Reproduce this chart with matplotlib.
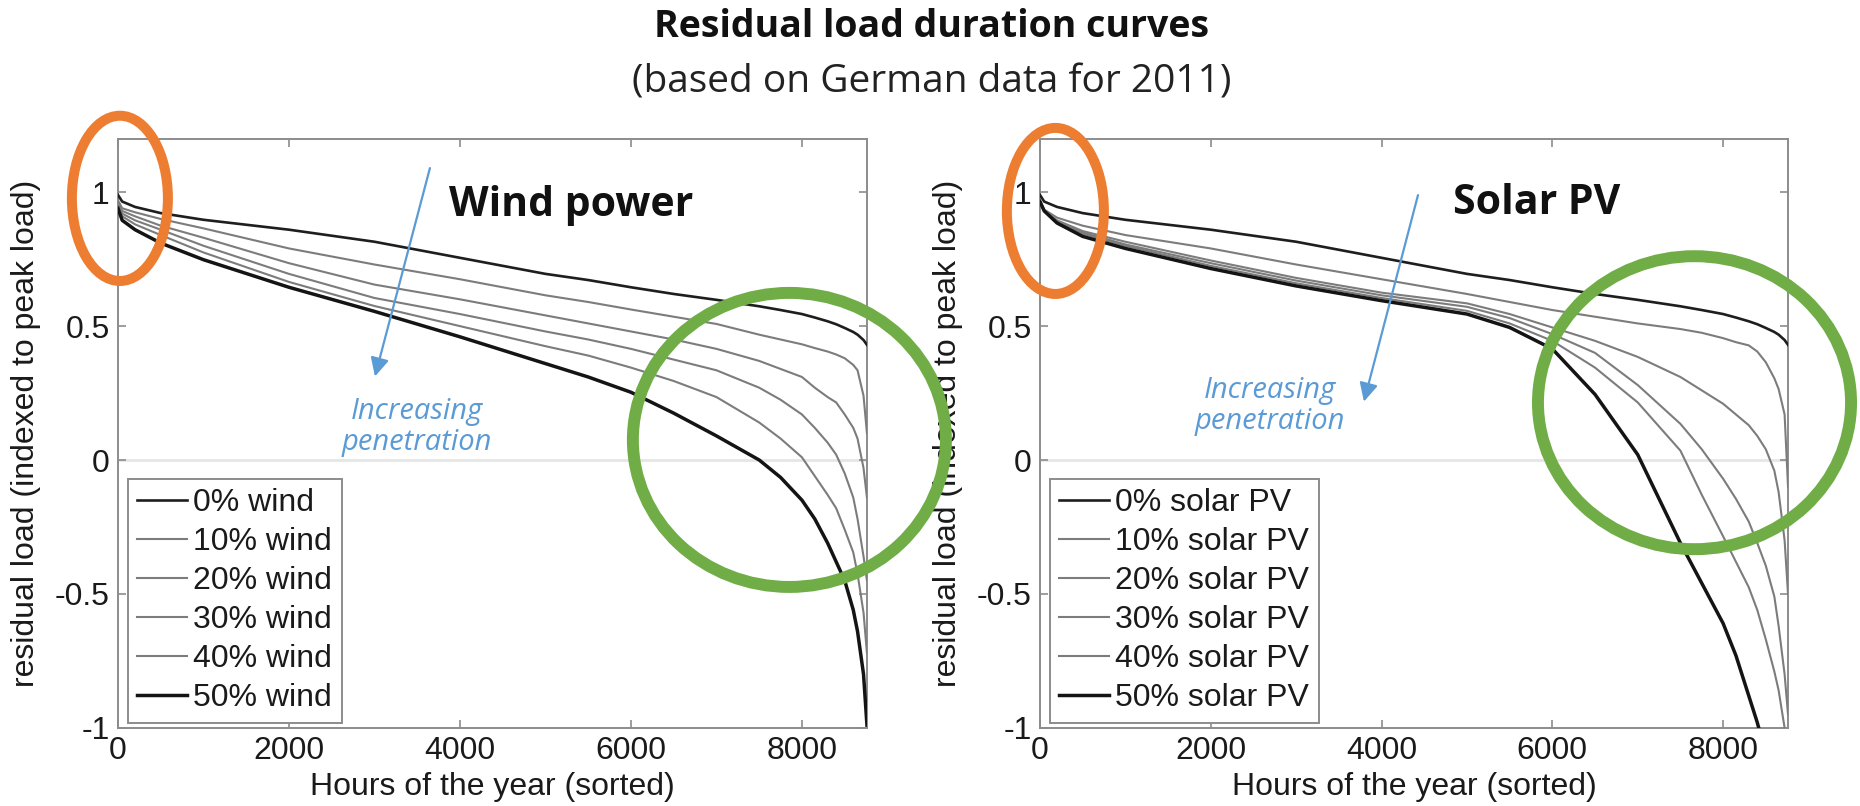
import matplotlib.pyplot as plt
from matplotlib.patches import Ellipse
from matplotlib.ticker import FuncFormatter


HOURS = [0, 50, 200, 500, 1000, 2000, 3000, 4000, 5000, 5500, 6000, 6500,
         7000, 7500, 7750, 8000, 8150, 8300, 8400, 8500, 8600, 8650, 8720, 8760]

# residual load indexed to peak load, 0% renewables = plain load curve
BASE_LOAD = [0.99, 0.965, 0.945, 0.922, 0.897, 0.86, 0.815, 0.755, 0.695, 0.672,
             0.645, 0.62, 0.598, 0.574, 0.56, 0.545, 0.532, 0.518, 0.507,
             0.493, 0.478, 0.468, 0.448, 0.43]

WIND_10 = [0.97, 0.94, 0.925, 0.90, 0.865, 0.79, 0.73, 0.675, 0.615, 0.59,
           0.562, 0.535, 0.508, 0.468, 0.45, 0.432, 0.418, 0.405, 0.394,
           0.38, 0.355, 0.335, 0.24, 0.10]
WIND_20 = [0.965, 0.93, 0.91, 0.875, 0.83, 0.735, 0.655, 0.60, 0.54, 0.51,
           0.48, 0.45, 0.415, 0.37, 0.34, 0.31, 0.27, 0.235, 0.215,
           0.17, 0.12, 0.08, -0.03, -0.14]
WIND_30 = [0.96, 0.92, 0.895, 0.86, 0.80, 0.695, 0.605, 0.545, 0.48, 0.45,
           0.415, 0.375, 0.335, 0.27, 0.225, 0.17, 0.12, 0.065, 0.02,
           -0.05, -0.14, -0.22, -0.36, -0.45]
WIND_40 = [0.955, 0.91, 0.88, 0.84, 0.775, 0.665, 0.575, 0.50, 0.425, 0.39,
           0.345, 0.295, 0.235, 0.14, 0.08, 0.01, -0.06, -0.13, -0.18,
           -0.26, -0.345, -0.425, -0.57, -0.72]
WIND_50 = [0.94, 0.895, 0.86, 0.81, 0.748, 0.645, 0.555, 0.46, 0.36, 0.31,
           0.253, 0.175, 0.09, 0.0, -0.065, -0.15, -0.22, -0.31, -0.38,
           -0.45, -0.56, -0.64, -0.80, -0.99]

SOLAR_10 = [0.97, 0.935, 0.905, 0.875, 0.84, 0.79, 0.73, 0.675, 0.62, 0.59,
            0.56, 0.535, 0.51, 0.489, 0.475, 0.455, 0.44, 0.428, 0.405,
            0.365, 0.305, 0.265, 0.17, -0.10]
SOLAR_20 = [0.965, 0.93, 0.895, 0.855, 0.815, 0.745, 0.68, 0.625, 0.585, 0.545,
            0.495, 0.445, 0.385, 0.31, 0.26, 0.21, 0.17, 0.13, 0.09,
            0.04, -0.04, -0.12, -0.30, -0.50]
SOLAR_30 = [0.965, 0.93, 0.89, 0.85, 0.805, 0.735, 0.67, 0.615, 0.572, 0.53,
            0.47, 0.40, 0.28, 0.135, 0.04, -0.07, -0.145, -0.23, -0.31,
            -0.395, -0.51, -0.62, -0.80, -0.95]
SOLAR_40 = [0.965, 0.93, 0.89, 0.845, 0.80, 0.725, 0.66, 0.605, 0.557, 0.51,
            0.445, 0.345, 0.215, 0.035, -0.13, -0.285, -0.38, -0.475, -0.56,
            -0.67, -0.79, -0.86, -1.0, -1.1]
SOLAR_50 = [0.965, 0.93, 0.885, 0.835, 0.79, 0.715, 0.65, 0.595, 0.545, 0.495,
            0.415, 0.245, 0.02, -0.31, -0.46, -0.61, -0.73, -0.88, -0.98,
            -1.1, -1.2, -1.3, -1.4, -1.5]

SHARES = [0, 10, 20, 30, 40, 50]
WIND_CURVES = [BASE_LOAD, WIND_10, WIND_20, WIND_30, WIND_40, WIND_50]
SOLAR_CURVES = [BASE_LOAD, SOLAR_10, SOLAR_20, SOLAR_30, SOLAR_40, SOLAR_50]

X_TICKS = [0, 2000, 4000, 6000, 8000]
Y_TICKS = [-1, -0.5, 0, 0.5, 1]

_AXIS_FONT = "Liberation Sans"
_NOTE_FONT = "Open Sans"
_NOTE_BLUE = "#5b9bd5"
_ORANGE = "#ed7d31"
_GREEN = "#70ad47"


def line_style(share):
    if share == 0:
        return "#1e1e1e", 1.9
    if share == 50:
        return "#141414", 2.5
    return "#7c7c7c", 1.5


def setup_axes(ax):
    ax.set_xlim(0, 8760)
    ax.set_ylim(-1, 1.2)
    ax.set_xticks(X_TICKS)
    ax.set_yticks(Y_TICKS)
    ax.yaxis.set_major_formatter(FuncFormatter(lambda v, _: f"{v:g}"))
    ax.tick_params(direction="in", top=True, right=True, length=6, width=1.2,
                   color="#8c8c8c", labelsize=23, labelcolor="#1a1a1a", pad=6)
    for lab in ax.get_xticklabels() + ax.get_yticklabels():
        lab.set_fontfamily(_AXIS_FONT)
    for spine in ax.spines.values():
        spine.set_color("#8c8c8c")
        spine.set_linewidth(1.4)
    ax.axhline(0, color="#e6e6e6", lw=2, zorder=1)
    ax.set_xlabel("Hours of the year (sorted)", fontsize=23, family=_AXIS_FONT,
                  color="#1a1a1a", labelpad=4)
    ax.set_ylabel("residual load (indexed to peak load)", fontsize=23,
                  family=_AXIS_FONT, color="#1a1a1a", labelpad=10)


def plot_panel(ax, curves, tech):
    for share, values in zip(SHARES, curves):
        color, lw = line_style(share)
        ax.plot(HOURS, values, color=color, lw=lw, zorder=3,
                label=f"{share}% {tech}")
    leg = ax.legend(loc="lower left", bbox_to_anchor=(0.013, 0.009),
                    borderaxespad=0, fancybox=False, framealpha=1,
                    edgecolor="#8c8c8c", handlelength=1.55, handletextpad=0.2,
                    labelspacing=0.28, borderpad=0.3,
                    prop={"family": _AXIS_FONT, "size": 23})
    leg.get_frame().set_linewidth(1.4)
    for txt in leg.get_texts():
        txt.set_color("#1a1a1a")


fig = plt.figure(figsize=(18.6, 8.06), dpi=100)
ax_wind = fig.add_axes([0.0634, 0.097, 0.4027, 0.731])
ax_solar = fig.add_axes([0.5591, 0.097, 0.4022, 0.731])

for ax in (ax_wind, ax_solar):
    setup_axes(ax)

plot_panel(ax_wind, WIND_CURVES, "wind")
plot_panel(ax_solar, SOLAR_CURVES, "solar PV")

fig.text(0.501, 0.966, "Residual load duration curves", ha="center", va="center",
         fontsize=27, fontweight="bold", family=_NOTE_FONT, color="#111111")
fig.text(0.501, 0.898, "(based on German data for 2011)", ha="center", va="center",
         fontsize=28, family=_NOTE_FONT, color="#222222")

ax_wind.text(5304, 0.951, "Wind power", ha="center", va="center", fontsize=29.5,
             fontweight="bold", family=_NOTE_FONT, color="#111111")
ax_solar.text(5815, 0.959, "Solar PV", ha="center", va="center", fontsize=29.5,
              fontweight="bold", family=_NOTE_FONT, color="#111111")

# "Increasing penetration" arrows
for ax, start, tip, note_xy in (
    (ax_wind, (3649, 1.09), (3006, 0.312), (3497, 0.124)),
    (ax_solar, (4427, 0.989), (3794, 0.218), (2694, 0.203)),
):
    ax.annotate("", xy=tip, xytext=start,
                arrowprops=dict(arrowstyle="-|>", color=_NOTE_BLUE, lw=1.6,
                                mutation_scale=28, shrinkA=0, shrinkB=0),
                zorder=6)
    ax.text(*note_xy, "Increasing\npenetration", ha="center", va="center",
            fontsize=21, style="italic", family=_NOTE_FONT, color=_NOTE_BLUE,
            linespacing=1.1, zorder=6)

# highlight rings drawn on top of everything
for ax, centre, width, height, color, lw in (
    (ax_wind, (23, 0.977), 1123, 0.617, _ORANGE, 7.2),
    (ax_solar, (181, 0.93), 1136, 0.62, _ORANGE, 7.2),
    (ax_wind, (7853, 0.075), 3661, 1.098, _GREEN, 8.6),
    (ax_solar, (7665, 0.214), 3666, 1.094, _GREEN, 8.6),
):
    fig.add_artist(Ellipse(centre, width, height, transform=ax.transData,
                           fill=False, edgecolor=color, lw=lw, zorder=10,
                           clip_on=False))

fig.savefig("out.png", dpi=100)
